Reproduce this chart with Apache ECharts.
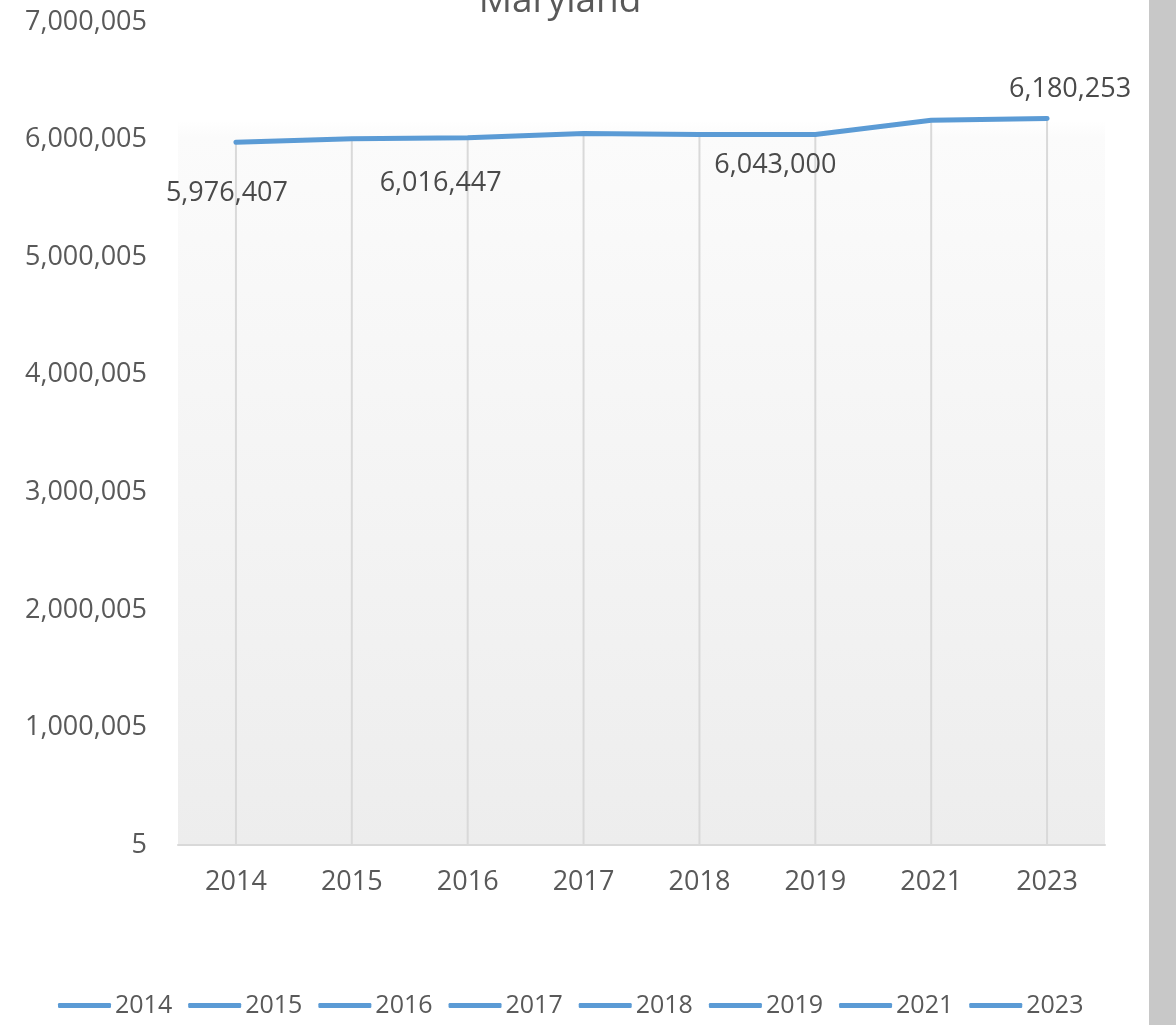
<!DOCTYPE html>
<html>
<head>
<meta charset="utf-8">
<script src="https://cdn.jsdelivr.net/npm/echarts@6/dist/echarts.min.js"></script>
<style>
html,body{margin:0;padding:0;background:#fff;}
#main{width:1176px;height:1025px;}
</style>
</head>
<body>
<div id="main"></div>
<script>
var categories = ['2014','2015','2016','2017','2018','2019','2021','2023'];
var populationValues = [5976407, 6006401, 6016447, 6052177, 6042718, 6043000, 6165129, 6180253];
var legendNames = ['2014','2015','2016','2017','2018','2019','2021','2023'];
var yTickMin = 0, yTickMax = 7000000, yTickStep = 1000000, yTickLabelOffset = 5;
var titleText = 'Maryland';

var labelConf = {
  0: {position: 'bottom', offset: [-9, 32]},
  2: {position: 'bottom', offset: [-27, 27]},
  5: {position: 'bottom', offset: [-40, 12]},
  7: {position: 'top', offset: [23, -11]}
};

var FONT = '"Open Sans", sans-serif';
var TXT = '#595959';
var lineData = populationValues.map(function (v, i) {
  var d = {value: v};
  if (labelConf[i]) {
    d.label = {show: true, position: labelConf[i].position, offset: labelConf[i].offset};
  }
  return d;
});

var series = [
  {
    name: 'drop',
    type: 'bar',
    data: populationValues,
    barWidth: 2,
    itemStyle: {color: '#d9d9d9'},
    silent: true,
    z: 1
  },
  {
    name: legendNames[0],
    type: 'line',
    data: lineData,
    symbol: 'circle',
    symbolSize: 0,
    showSymbol: true,
    lineStyle: {color: '#5b9bd5', width: 5, cap: 'round'},
    itemStyle: {color: '#5b9bd5'},
    label: {
      show: false, color: '#4a4a4a', fontSize: 27, fontFamily: FONT,
      formatter: function (p) { return p.value.toLocaleString('en-US'); }
    },
    z: 3
  }
];
for (var i = 1; i < legendNames.length; i++) {
  series.push({name: legendNames[i], type: 'line', data: [], symbol: 'none',
    lineStyle: {color: '#5b9bd5', width: 5}, itemStyle: {color: '#5b9bd5'}});
}

var chart = echarts.init(document.getElementById('main'), null, {renderer: 'canvas'});
chart.setOption({
  animation: false,
  backgroundColor: '#ffffff',
  title: {
    text: titleText, left: 555, top: -22, textAlign: 'center',
    textStyle: {color: TXT, fontSize: 37, fontWeight: 'normal', fontFamily: FONT}
  },
  legend: {
    data: legendNames,
    left: 53, top: 988,
    icon: 'roundRect',
    itemWidth: 53, itemHeight: 5, itemGap: 16,
    textStyle: {color: TXT, fontSize: 25, fontFamily: FONT, padding: [0, 0, 0, -1]}
  },
  grid: {
    left: 178, right: 71, top: 22, bottom: 180,
    containLabel: false, outerBoundsMode: 'none',
    show: true, borderWidth: 0,
    backgroundColor: new echarts.graphic.LinearGradient(0, 0, 0, 1, [
      {offset: 0, color: '#ffffff'},
      {offset: 0.12, color: '#ffffff'},
      {offset: 0.14, color: '#fbfbfb'},
      {offset: 1, color: '#ededed'}
    ])
  },
  xAxis: {
    type: 'category',
    data: categories,
    boundaryGap: true,
    axisLine: {show: true, lineStyle: {color: '#d9d9d9', width: 2}},
    axisTick: {show: false},
    splitLine: {show: false},
    axisLabel: {color: TXT, fontSize: 27, fontFamily: FONT, margin: 24}
  },
  yAxis: {
    type: 'value',
    min: yTickMin, max: yTickMax, interval: yTickStep,
    axisLine: {show: false},
    axisTick: {show: false},
    splitLine: {show: false},
    axisLabel: {
      color: TXT, fontSize: 27, fontFamily: FONT, margin: 31,
      formatter: function (v) { return (v + yTickLabelOffset).toLocaleString('en-US'); }
    }
  },
  graphic: [{
    type: 'rect', right: 0, top: 0, z: 100,
    shape: {width: 27, height: 1025},
    style: {fill: '#c8c8c8'}
  }],
  series: series
});
</script>
</body>
</html>
